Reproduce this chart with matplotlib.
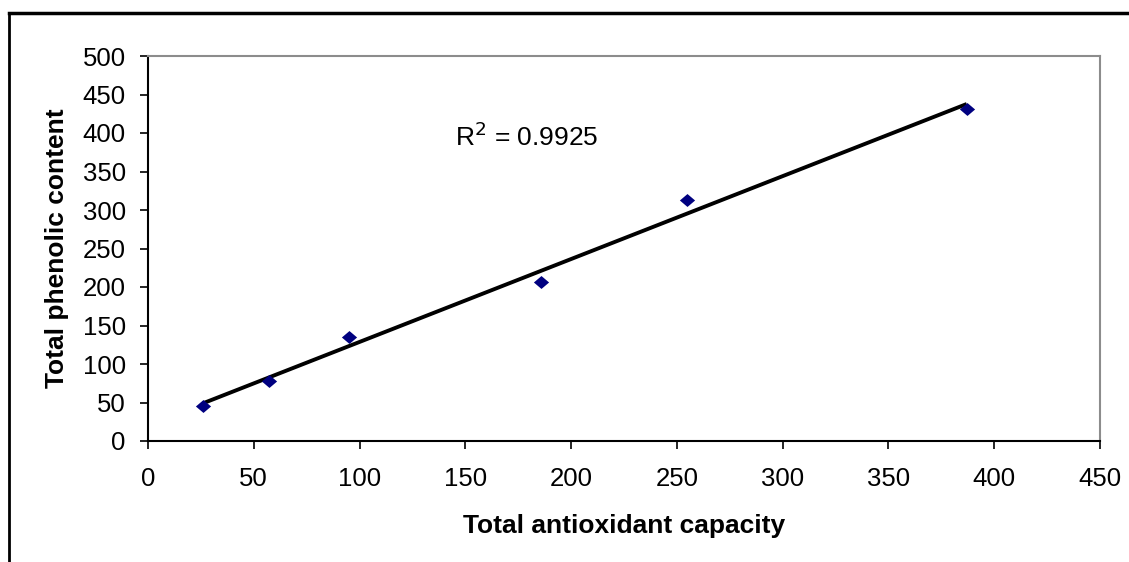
import numpy as np
import matplotlib
matplotlib.use("Agg")
import matplotlib.pyplot as plt
from matplotlib.lines import Line2D
from matplotlib.path import Path

plt.rcParams['font.family'] = ['Liberation Sans', 'DejaVu Sans']

# Data
antioxidant = [26, 57, 95, 186, 255, 387]
phenolic = [45, 78, 135, 207, 313, 431]
x_ticks = [0, 50, 100, 150, 200, 250, 300, 350, 400, 450]
y_ticks = [0, 50, 100, 150, 200, 250, 300, 350, 400, 450, 500]
r2_label = "R$^2$ = 0.9925"

fig = plt.figure(figsize=(11.29, 5.62), dpi=100)
ax = fig.add_axes([148/1129, 1 - 441/562, (1100-148)/1129, (441-56)/562])

# trend line (least squares)
slope, intercept = np.polyfit(antioxidant, phenolic, 1)
xs = np.array([min(antioxidant), max(antioxidant)])
ax.plot(xs, slope*xs + intercept, color='black', lw=2.8, solid_capstyle='butt', zorder=2)

diamond = Path([(-1, 0), (0, 0.85), (1, 0), (0, -0.85), (-1, 0)],
               [Path.MOVETO, Path.LINETO, Path.LINETO, Path.LINETO, Path.CLOSEPOLY])
ax.scatter(antioxidant, phenolic, marker=diamond, s=120, color='#000080', zorder=3, linewidths=0)

ax.set_xlim(0, 450)
ax.set_ylim(0, 500)
ax.set_xticks(x_ticks)
ax.set_yticks(y_ticks)
ax.tick_params(axis='both', direction='out', length=6, width=1.2, labelsize=18.5, color='black')
ax.tick_params(axis='x', pad=13)
ax.tick_params(axis='y', pad=10)

for s in ['top', 'right']:
    ax.spines[s].set_color('#8c8c8c')
    ax.spines[s].set_linewidth(1.5)
for s in ['left', 'bottom']:
    ax.spines[s].set_color('black')
    ax.spines[s].set_linewidth(1.5)

ax.set_xlabel("Total antioxidant capacity", fontsize=19, fontweight='bold', labelpad=16)
ax.set_ylabel("Total phenolic content", fontsize=19, fontweight='bold', labelpad=10)

ax.text(145, 395, r2_label, fontsize=19, va='center', ha='left')

# outer chart border (top and left visible)
fig.add_artist(Line2D([9/1129, 9/1129], [0, 1 - 13/562], color='black', lw=2, transform=fig.transFigure))
fig.add_artist(Line2D([9/1129, 1], [1 - 13/562, 1 - 13/562], color='black', lw=2.5, transform=fig.transFigure))

fig.savefig("out.png", dpi=100)
